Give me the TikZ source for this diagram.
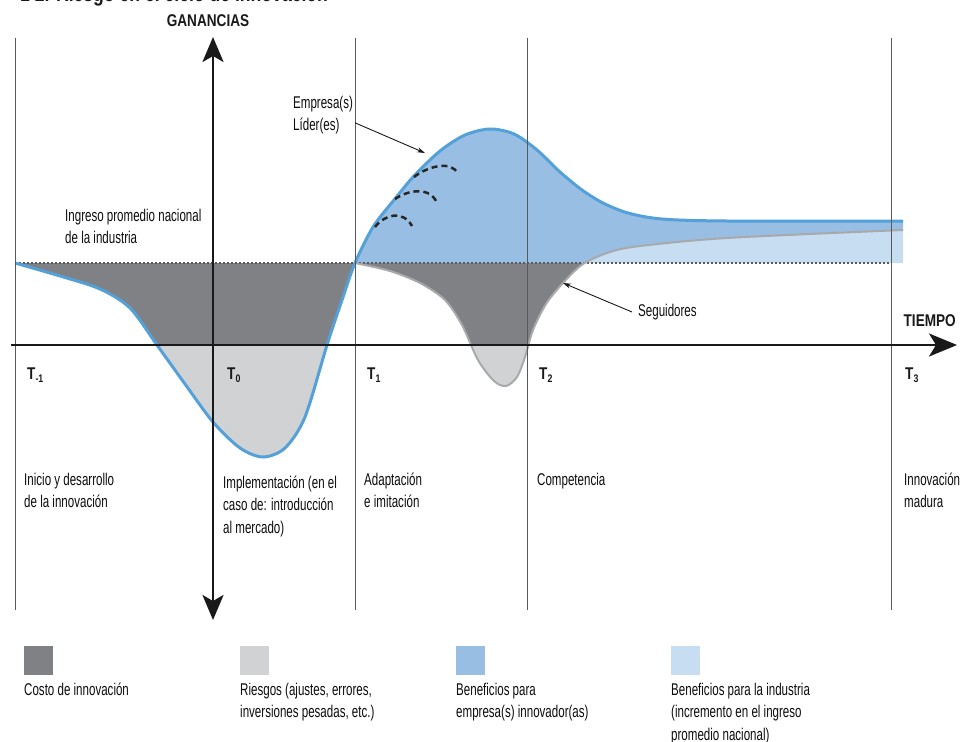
\documentclass[tikz,border=0pt]{standalone}
\usepackage{fontspec}
\setmainfont{Liberation Sans}[FakeStretch=0.68]
\newfontfamily\boldcond{Liberation Sans}[FakeStretch=0.8]
\usetikzlibrary{arrows.meta}

\definecolor{costo}{RGB}{128,129,132}
\definecolor{riesgo}{RGB}{209,210,212}
\definecolor{benefemp}{RGB}{152,191,227}
\definecolor{benefind}{RGB}{199,221,241}
\definecolor{lineaazul}{RGB}{84,161,217}
\definecolor{lineagris}{RGB}{167,169,172}
\definecolor{trazo}{RGB}{88,89,91}

\newcommand\tsub[1]{T\raisebox{-3pt}{\fontsize{11}{11}\selectfont #1}}

\tikzset{
  texto/.style={font=\fontsize{17}{22.5}\selectfont, text=black!95, align=left, anchor=north west, inner sep=0pt},
  rotulo/.style={font=\boldcond\bfseries\fontsize{17}{20}\selectfont, text=black!90, inner sep=0pt},
  eje/.style={line width=2.6pt, black!90},
  corte/.style={line width=1pt, trazo},
  flecha/.style={line width=0.9pt, black!90, -{Stealth[length=8pt,width=5pt]}},
  muestra/.style={minimum size=29pt, inner sep=0pt, anchor=north west},
}

\begin{document}
\begin{tikzpicture}[x=1pt,y=-1pt]
\useasboundingbox (0,0) rectangle (960,741);

% titulo, cortado arriba
\node[rotulo, anchor=base west, font=\boldcond\bfseries\fontsize{22}{24}\selectfont] (titulo) at (20,2) {1 2. Riesgo en el ciclo de innovación};

% tramos reutilizados
\path[save path=\tramoinicial] plot[smooth] coordinates {(15,263) (60,276) (100,289) (130,308) (157,345) (185,384) (213,422) (240,448) (263,457) (285,448) (305,417) (327,345) (342,300) (355,263)} -- cycle;
\path[save path=\tramoseguidor] plot[smooth] coordinates {(355,263) (390,271) (420,283) (445,300) (462,325) (478,360) (494,381) (506,386) (517,377) (525,357) (533,330) (546,304) (563,283) (583,263)} -- cycle;

% costo arriba del eje, riesgo abajo
\begin{scope}
  \clip (0,0) rectangle (960,345);
  \fill[costo, use path=\tramoinicial];
  \fill[costo, use path=\tramoseguidor];
\end{scope}
\begin{scope}
  \clip (0,345) rectangle (960,741);
  \fill[riesgo, use path=\tramoinicial];
  \fill[riesgo, use path=\tramoseguidor];
\end{scope}

% beneficios
\fill[benefemp] plot[smooth] coordinates {(355,263) (373,227) (394,200) (414,176) (440,151) (465,135) (490,129) (514,134) (537,150) (560,172) (582,190) (603,203) (628,213) (662,219) (727,221) (903,221)} -- (903,230) -- plot[smooth] coordinates {(903,230) (727,238) (640,246) (610,252) (583,263)} -- cycle;
\fill[benefind] plot[smooth] coordinates {(583,263) (610,252) (640,246) (727,238) (903,230)} -- (903,263) -- cycle;

% ingreso promedio
\draw[trazo, line width=1.5pt, dash pattern=on 2pt off 2pt] (15,263) -- (891,263);

% curvas
\draw[lineagris, line width=2pt] plot[smooth] coordinates {(355,263) (390,271) (420,283) (445,300) (462,325) (478,360) (494,381) (506,386) (517,377) (525,357) (533,330) (546,304) (563,283) (583,264) (610,252) (640,246) (727,238) (903,230)};
\draw[lineaazul, line width=3pt] plot[smooth] coordinates {(15,263) (60,276) (100,289) (130,308) (157,345) (185,384) (213,422) (240,448) (263,457) (285,448) (305,417) (327,345) (342,300) (355,263) (373,227) (394,200) (414,176) (440,151) (465,135) (490,129) (514,134) (537,150) (560,172) (582,190) (603,203) (628,213) (662,219) (727,221) (903,221)};

% etapas
\foreach \x in {15,355,527,891}
  \draw[corte] (\x,38) -- (\x,610);

% ejes
\draw[eje, {Stealth[length=25pt,width=21pt,inset=6pt]}-{Stealth[length=25pt,width=21pt,inset=6pt]}] (213,620) -- (213,37);
\draw[eje, -{Stealth[length=28pt,width=23pt,inset=7pt]}] (11,345) -- (957,345);

% imitadores
\draw[black!85, line width=2.5pt, dash pattern=on 6pt off 4pt] (375,227) .. controls (385,214) and (403,210) .. (412,226);
\draw[black!85, line width=2.5pt, dash pattern=on 6pt off 4pt] (395,199) .. controls (408,190) and (430,186) .. (437,203);
\draw[black!85, line width=2.5pt, dash pattern=on 6pt off 4pt] (414,177) .. controls (428,166) and (452,160) .. (458,174);

% rotulos
\node[rotulo] (ganancias) at (208,21) {GANANCIAS};
\node[rotulo, anchor=east] (tiempo) at (956,321) {TIEMPO};
\node[rotulo, anchor=base west] (tmenos) at (27,379) {\tsub{-1}};
\node[rotulo, anchor=base west] (tcero) at (227,379) {\tsub{0}};
\node[rotulo, anchor=base west] (tuno) at (367,379) {\tsub{1}};
\node[rotulo, anchor=base west] (tdos) at (539,379) {\tsub{2}};
\node[rotulo, anchor=base west] (ttres) at (905,379) {\tsub{3}};

\node[texto] (ingreso) at (65,208.5) {Ingreso promedio nacional\\de la industria};
\node[texto] (lider) at (293,95.5) {Empresa(s)\\Líder(es)};
\node[texto, anchor=west] (seguidores) at (638,312) {Seguidores};
\coordinate (liderpunta) at (425,153);
\coordinate (seguidorpunta) at (563,283);
\draw[flecha] ([xshift=2pt,yshift=-8pt]lider.east) -- (liderpunta);
\draw[flecha] ([xshift=-6pt]seguidores.west) -- (seguidorpunta);

\node[texto] (inicio) at (24,472.5) {Inicio y desarrollo\\de la innovación};
\node[texto] (implementacion) at (223,475.5) {Implementación (en el\\caso de: introducción\\al mercado)};
\node[texto] (adaptacion) at (364,472.5) {Adaptación\\e imitación};
\node[texto] (competencia) at (537,472.5) {Competencia};
\node[texto] (madura) at (904,472.5) {Innovación\\madura};

% leyenda
\node[muestra, fill=costo] (mcosto) at (24,646) {};
\node[muestra, fill=riesgo] (mriesgo) at (240,646) {};
\node[muestra, fill=benefemp] (mempresa) at (456,646) {};
\node[muestra, fill=benefind] (mindustria) at (671,646) {};
\node[texto] (lcosto) at ([yshift=-7.5pt]mcosto.south west) {Costo de innovación};
\node[texto] (lriesgo) at ([yshift=-7.5pt]mriesgo.south west) {Riesgos (ajustes, errores,\\inversiones pesadas, etc.)};
\node[texto] (lempresa) at ([yshift=-7.5pt]mempresa.south west) {Beneficios para\\empresa(s) innovador(as)};
\node[texto] (lindustria) at ([yshift=-7.5pt]mindustria.south west) {Beneficios para la industria\\(incremento en el ingreso\\promedio nacional)};
\end{tikzpicture}
\end{document}
